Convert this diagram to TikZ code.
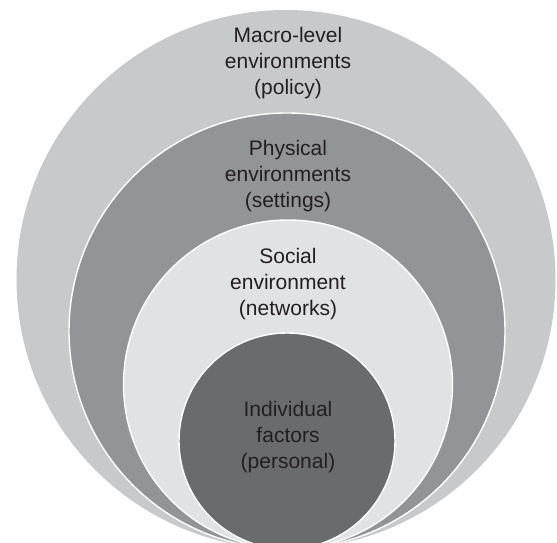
\documentclass[tikz,border=0pt]{standalone}
\usepackage{fontspec}
\setmainfont{Liberation Sans}
\definecolor{outerc}{HTML}{C8C9CB}
\definecolor{physc}{HTML}{939498}
\definecolor{socc}{HTML}{E1E2E4}
\definecolor{indc}{HTML}{6A6B6D}
\definecolor{txtc}{HTML}{231F20}
\begin{document}
\begin{tikzpicture}[x=1pt,y=1pt,
  ring/.style={circle, inner sep=0pt, draw=white, line width=1.4pt},
  lbl/.style={align=center, text=txtc, font=\fontsize{21}{26}\selectfont, inner sep=0pt}]
\useasboundingbox (0,0) rectangle (557,543);
\clip (0,0) rectangle (557,543);
\node[circle, inner sep=0pt, fill=outerc, minimum size=539pt] (outer) at (286,263.5) {};
\node[ring, fill=physc, minimum size=436pt] (phys) at (287,212) {};
\node[ring, fill=socc, minimum size=329pt] (soc) at (288,158.5) {};
\node[ring, fill=indc, minimum size=216pt] (ind) at (287,102) {};
\node[lbl] (tmacro) at (288,480) {Macro-level\\environments\\(policy)};
\node[lbl] (tphys) at (288,367) {Physical\\environments\\(settings)};
\node[lbl] (tsoc) at (288,258.5) {Social\\environment\\(networks)};
\node[lbl] (tind) at (288,105.5) {Individual\\factors\\(personal)};
\end{tikzpicture}
\end{document}
